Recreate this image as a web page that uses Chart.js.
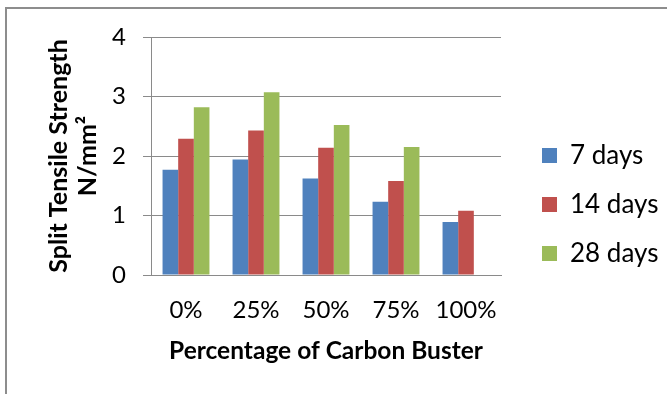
<!DOCTYPE html>
<html>
<head>
<meta charset="utf-8">
<script src="https://cdn.jsdelivr.net/npm/chart.js@4"></script>
<style>
  html, body { margin: 0; padding: 0; background: #fff; }
  #wrap { position: relative; width: 667px; height: 394px; overflow: hidden; }
  #frame { position: absolute; left: 5px; top: 7px; width: 800px; height: 500px; border: 2px solid #8d8d8d; }
  #chart { position: absolute; left: 0; top: 0; }
</style>
</head>
<body>
<div id="wrap">
  <div id="frame"></div>
  <canvas id="chart" width="667" height="394"></canvas>
</div>
<script>
const categories = ['0%', '25%', '50%', '75%', '100%'];
const days7 = [1.77, 1.94, 1.62, 1.23, 0.89];
const days14 = [2.29, 2.43, 2.14, 1.58, 1.08];
const days28 = [2.82, 3.07, 2.52, 2.15, null];
const yTicks = [0, 1, 2, 3, 4];

const FONT = 'Lato, "Liberation Sans", sans-serif';
const GRID = '#8a8a8a';
const LEGEND_PAD = 23;

// legend sits right of the plot; move it to its spot after layout
// and open its clip box up to the canvas edge
const legendPlace = {
    id: 'legendPlace',
    afterLayout(chart) {
        const l = chart.legend;
        const dy = -11;
        l.left = 542 - LEGEND_PAD;
        l.right = chart.width;
        l.top += dy; l.bottom += dy;
    }
};

const ctx = document.getElementById('chart').getContext('2d');
new Chart(ctx, {
    type: 'bar',
    data: {
        labels: categories,
        datasets: [
            { label: '7 days', data: days7, backgroundColor: '#4f81bd' },
            { label: '14 days', data: days14, backgroundColor: '#c0504d' },
            { label: '28 days', data: days28, backgroundColor: '#9bbb59' }
        ]
    },
    options: {
        responsive: false,
        animation: false,
        events: [],
        layout: { padding: { left: 0, top: 37, right: 26, bottom: 0 } },
        datasets: { bar: { categoryPercentage: 0.67, barPercentage: 1.0 } },
        plugins: {
            tooltip: { enabled: false },
            legend: {
                position: 'right',
                align: 'center',
                maxWidth: 140,
                labels: {
                    boxWidth: 15,
                    boxHeight: 15,
                    padding: LEGEND_PAD,
                    color: '#000',
                    font: { family: FONT, size: 26 }
                }
            }
        },
        scales: {
            x: {
                grid: { display: false, drawTicks: false },
                border: { display: true, color: GRID, width: 1 },
                ticks: { color: '#000', padding: 21, font: { family: FONT, size: 24 } },
                title: {
                    display: true,
                    text: 'Percentage of Carbon Buster',
                    color: '#000',
                    font: { family: FONT, size: 24.5, weight: 'bold' },
                    padding: { top: 0, bottom: 28 }
                },
                afterFit(scale) { scale.height = 119; }
            },
            y: {
                min: 0,
                max: 4,
                afterBuildTicks(scale) { scale.ticks = yTicks.map(v => ({ value: v })); },
                grid: { color: GRID, lineWidth: 1, tickLength: 8 },
                border: { display: true, color: GRID, width: 1 },
                ticks: { color: '#000', padding: 17, font: { family: FONT, size: 24 } },
                title: {
                    display: true,
                    text: ['Split Tensile Strength', 'N/mm\u00b2'],
                    color: '#000',
                    font: { family: FONT, size: 25, weight: 'bold', lineHeight: 1.14 },
                    padding: { top: 45, bottom: 0 }
                },
                afterFit(scale) { scale.width = 151; }
            }
        }
    },
    plugins: [legendPlace]
});
</script>
</body>
</html>
